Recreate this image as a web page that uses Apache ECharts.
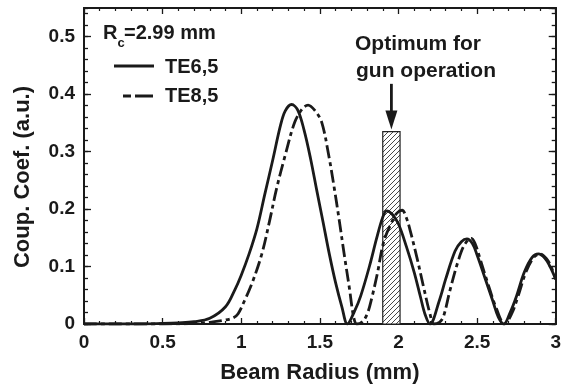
<!DOCTYPE html>
<html>
<head>
<meta charset="utf-8">
<script src="https://cdn.jsdelivr.net/npm/echarts@6/dist/echarts.min.js"></script>
<style>
  html, body { margin: 0; padding: 0; background: #fff; }
  #chart { width: 564px; height: 389px; }
</style>
</head>
<body>
<div id="chart"></div>
<script>
// TE6,5 coupling coefficient vs beam radius (mm)
var te65 = [
  [0, 0], [0.3, 0], [0.5, 0.001], [0.6, 0.002], [0.7, 0.004], [0.8, 0.01],
  [0.9, 0.03], [0.96, 0.06], [1.0, 0.085], [1.05, 0.122], [1.1, 0.166],
  [1.15, 0.226], [1.2, 0.285], [1.25, 0.346], [1.28, 0.371], [1.32, 0.382],
  [1.36, 0.372], [1.4, 0.337], [1.44, 0.289], [1.48, 0.233], [1.52, 0.178],
  [1.56, 0.122], [1.6, 0.072], [1.64, 0.03], [1.675, 0],
  [1.72, 0.022], [1.76, 0.049], [1.82, 0.105], [1.86, 0.148], [1.9, 0.186],
  [1.925, 0.197], [1.96, 0.191], [2.0, 0.174], [2.05, 0.135], [2.1, 0.09],
  [2.14, 0.047], [2.17, 0.016], [2.2, 0],
  [2.26, 0.041], [2.3, 0.078], [2.36, 0.127], [2.4, 0.143], [2.435, 0.148],
  [2.47, 0.14], [2.5, 0.12], [2.55, 0.08], [2.6, 0.04], [2.635, 0.012], [2.67, 0],
  [2.71, 0.02], [2.75, 0.048], [2.8, 0.09], [2.85, 0.116], [2.89, 0.122],
  [2.93, 0.115], [2.96, 0.102], [3.0, 0.078]
];
// TE8,5 coupling coefficient vs beam radius (mm)
var te85 = [
  [0, 0], [0.5, 0], [0.7, 0.001], [0.8, 0.003], [0.9, 0.007], [0.95, 0.011],
  [0.98, 0.018], [1.02, 0.04], [1.07, 0.072], [1.13, 0.121], [1.18, 0.179],
  [1.225, 0.236], [1.28, 0.294], [1.34, 0.351], [1.39, 0.375], [1.425, 0.381],
  [1.47, 0.371], [1.512, 0.351], [1.556, 0.294], [1.592, 0.236], [1.624, 0.179],
  [1.655, 0.121], [1.687, 0.064], [1.715, 0.012], [1.735, 0],
  [1.77, 0.004], [1.802, 0.018], [1.83, 0.045], [1.865, 0.087], [1.907, 0.144],
  [1.96, 0.179], [1.99, 0.193], [2.023, 0.198], [2.05, 0.185], [2.075, 0.162],
  [2.117, 0.116], [2.16, 0.064], [2.2, 0.018], [2.225, 0],
  [2.26, 0.003], [2.285, 0.012], [2.327, 0.058], [2.38, 0.11], [2.42, 0.138],
  [2.464, 0.149], [2.49, 0.138], [2.516, 0.116], [2.569, 0.07], [2.62, 0.029],
  [2.675, 0],
  [2.72, 0.018], [2.76, 0.048], [2.81, 0.09], [2.86, 0.116], [2.9, 0.122],
  [2.94, 0.114], [2.97, 0.1], [3.0, 0.078]
];
// optimum band: [from, to, height]
var optimumBand = [[1.9, 2.01, 0.335]];
var seriesNames = ['TE6,5', 'TE8,5'];

var FONT = 'Liberation Sans';
var INK = '#1a1a1a';

// hatch pattern ///
var hatch = document.createElement('canvas');
hatch.width = 5; hatch.height = 5;
var hc = hatch.getContext('2d');
hc.fillStyle = '#fff';
hc.fillRect(0, 0, 5, 5);
hc.strokeStyle = '#333';
hc.lineWidth = 0.9;
hc.beginPath();
hc.moveTo(0, 5); hc.lineTo(5, 0);
hc.moveTo(-1, 1); hc.lineTo(1, -1);
hc.moveTo(4, 6); hc.lineTo(6, 4);
hc.stroke();

function xAx(pos, showLabel) {
  return {
    type: 'value', position: pos, min: 0, max: 3, interval: 0.5,
    axisLine: { onZero: false, lineStyle: { color: INK, width: 2 } },
    axisTick: { inside: true, length: 6, lineStyle: { color: INK, width: 1.3 } },
    minorTick: { show: true, splitNumber: 5, length: 3, lineStyle: { color: INK, width: 1.2 } },
    splitLine: { show: false },
    axisLabel: { show: showLabel, margin: 9, color: INK, fontFamily: FONT, fontWeight: 'bold', fontSize: 19 },
    name: showLabel ? 'Beam Radius (mm)' : '',
    nameLocation: 'middle', nameGap: 38,
    nameTextStyle: { color: INK, fontFamily: FONT, fontWeight: 'bold', fontSize: 22 }
  };
}
function yAx(pos, step, len, showLabel) {
  return {
    type: 'value', position: pos, min: 0, max: 0.55, interval: step,
    axisLine: { onZero: false, lineStyle: { color: INK, width: 2 } },
    axisTick: { inside: true, length: len, lineStyle: { color: INK, width: 1.3 } },
    splitLine: { show: false },
    axisLabel: { show: showLabel, showMaxLabel: false, margin: 9, color: INK, fontFamily: FONT, fontWeight: 'bold', fontSize: 19 }
  };
}

var chart = echarts.init(document.getElementById('chart'));
chart.setOption({
  backgroundColor: '#fff',
  animation: false,
  grid: { left: 84, right: 4, top: 8, bottom: 62 },
  xAxis: [xAx('bottom', true), xAx('top', false)],
  yAxis: [
    yAx('left', 0.1, 7, true),
    yAx('left', 0.02, 4, false),
    yAx('right', 0.1, 7, false),
    yAx('right', 0.02, 4, false)
  ],
  graphic: [
    { type: 'text', x: 23, y: 177, rotation: Math.PI / 2, style: {
      text: 'Coup. Coef. (a.u.)', align: 'center', verticalAlign: 'middle',
      fill: INK, font: 'bold 22px "' + FONT + '"' } },
    { type: 'text', x: 103, y: 33, style: { text: 'R', verticalAlign: 'middle', fill: INK, font: 'bold 20px "' + FONT + '"' } },
    { type: 'text', x: 117.5, y: 43, style: { text: 'c', verticalAlign: 'middle', fill: INK, font: 'bold 13px "' + FONT + '"' } },
    { type: 'text', x: 124, y: 33, style: { text: '=2.99 mm', verticalAlign: 'middle', fill: INK, font: 'bold 20px "' + FONT + '"' } },
    { type: 'line', shape: { x1: 114, y1: 66, x2: 154, y2: 66 }, style: { stroke: INK, lineWidth: 2.8 } },
    { type: 'text', x: 165, y: 67, style: { text: seriesNames[0], verticalAlign: 'middle', fill: INK, font: 'bold 20px "' + FONT + '"' } },
    { type: 'line', shape: { x1: 123, y1: 96, x2: 153, y2: 96 }, style: { stroke: INK, lineWidth: 2.8, lineDash: [8, 4, 18, 4] } },
    { type: 'text', x: 165, y: 96, style: { text: seriesNames[1], verticalAlign: 'middle', fill: INK, font: 'bold 20px "' + FONT + '"' } },
    { type: 'text', x: 355, y: 44, style: { text: 'Optimum for', verticalAlign: 'middle', fill: INK, font: 'bold 21px "' + FONT + '"' } },
    { type: 'text', x: 356, y: 71, style: { text: 'gun operation', verticalAlign: 'middle', fill: INK, font: 'bold 21px "' + FONT + '"' } }
  ],
  series: [
    {
      type: 'custom',
      z: 1,
      xAxisIndex: 0, yAxisIndex: 0,
      data: optimumBand,
      encode: { x: [0, 1], y: 2 },
      renderItem: function (params, api) {
        var a = api.coord([api.value(0), api.value(2)]);
        var b = api.coord([api.value(1), 0]);
        var mx = (a[0] + b[0]) / 2;
        var tail = api.coord([0, 0.418])[1];
        var tip = a[1] - 2;
        return {
          type: 'group',
          children: [
            { type: 'rect', shape: { x: a[0], y: a[1], width: b[0] - a[0], height: b[1] - a[1] },
              style: { fill: { image: hatch, repeat: 'repeat' }, stroke: '#222', lineWidth: 1.2 } },
            { type: 'line', shape: { x1: mx, y1: tail, x2: mx, y2: tip - 16 },
              style: { stroke: INK, lineWidth: 2.8 } },
            { type: 'polygon', shape: { points: [[mx - 6, tip - 19], [mx + 6, tip - 19], [mx, tip]] },
              style: { fill: INK } }
          ]
        };
      }
    },
    {
      name: seriesNames[0], type: 'line', z: 3,
      data: te65, smooth: 0.35, showSymbol: false,
      lineStyle: { color: INK, width: 2.8 }
    },
    {
      name: seriesNames[1], type: 'line', z: 3,
      data: te85, smooth: 0.35, showSymbol: false,
      lineStyle: { color: INK, width: 2.8, type: [13, 4, 4, 4] }
    }
  ]
});
</script>
</body>
</html>
